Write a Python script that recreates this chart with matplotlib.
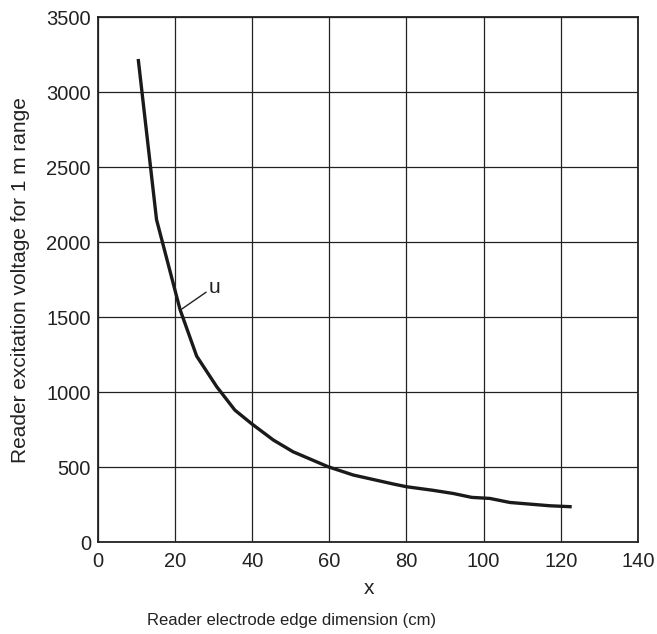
import matplotlib
matplotlib.use('Agg')
import matplotlib.pyplot as plt

plt.rcParams['font.family'] = ['Liberation Sans', 'DejaVu Sans']

# curve
edge_cm = [10.5, 15.2, 21.3, 25.6, 30.8, 35.5, 39.8, 45.5, 50.6, 59.7, 66.2,
           76.6, 80.0, 86.9, 92.1, 96.9, 101.6, 106.8, 112.0, 117.2, 122.4]
voltage = [3210, 2150, 1550, 1240, 1036, 880, 790, 680, 602, 502, 447,
           387, 369, 345, 324, 298, 291, 264, 253, 242, 236]

x_ticks = [0, 20, 40, 60, 80, 100, 120, 140]
y_ticks = [0, 500, 1000, 1500, 2000, 2500, 3000, 3500]

fig = plt.figure(figsize=(6.57, 6.34), dpi=100)
ax = fig.add_axes([0.149, 0.145, 0.822, 0.828])

ax.plot(edge_cm, voltage, color='#1a1a1a', linewidth=2.4, solid_joinstyle='round')

ax.set_xlim(0, 140)
ax.set_ylim(0, 3500)
ax.set_xticks(x_ticks)
ax.set_yticks(y_ticks)
ax.grid(True, color='#222222', linewidth=0.9)
ax.set_axisbelow(True)
ax.tick_params(length=0, labelsize=14.5, colors='#222222')
ax.tick_params(axis='x', pad=7)
ax.tick_params(axis='y', pad=5)
for s in ax.spines.values():
    s.set_linewidth(1.3)
    s.set_color('#222222')

# callout label on the curve
ax.plot([21.7, 28.0], [1553, 1665], color='#222222', linewidth=1.0)
ax.text(30.1, 1700, 'u', fontsize=15, color='#222222', ha='center', va='center')

ax.set_ylabel('Reader excitation voltage for 1 m range', fontsize=15,
              color='#222222', labelpad=12)
fig.text(369 / 657, 1 - 589 / 634, 'x', fontsize=15,
         color='#222222', ha='center', va='center')
fig.text(292 / 657, 1 - 620 / 634, 'Reader electrode edge dimension (cm)',
         fontsize=12, color='#222222', ha='center', va='center')

fig.savefig('out.png', dpi=100)
